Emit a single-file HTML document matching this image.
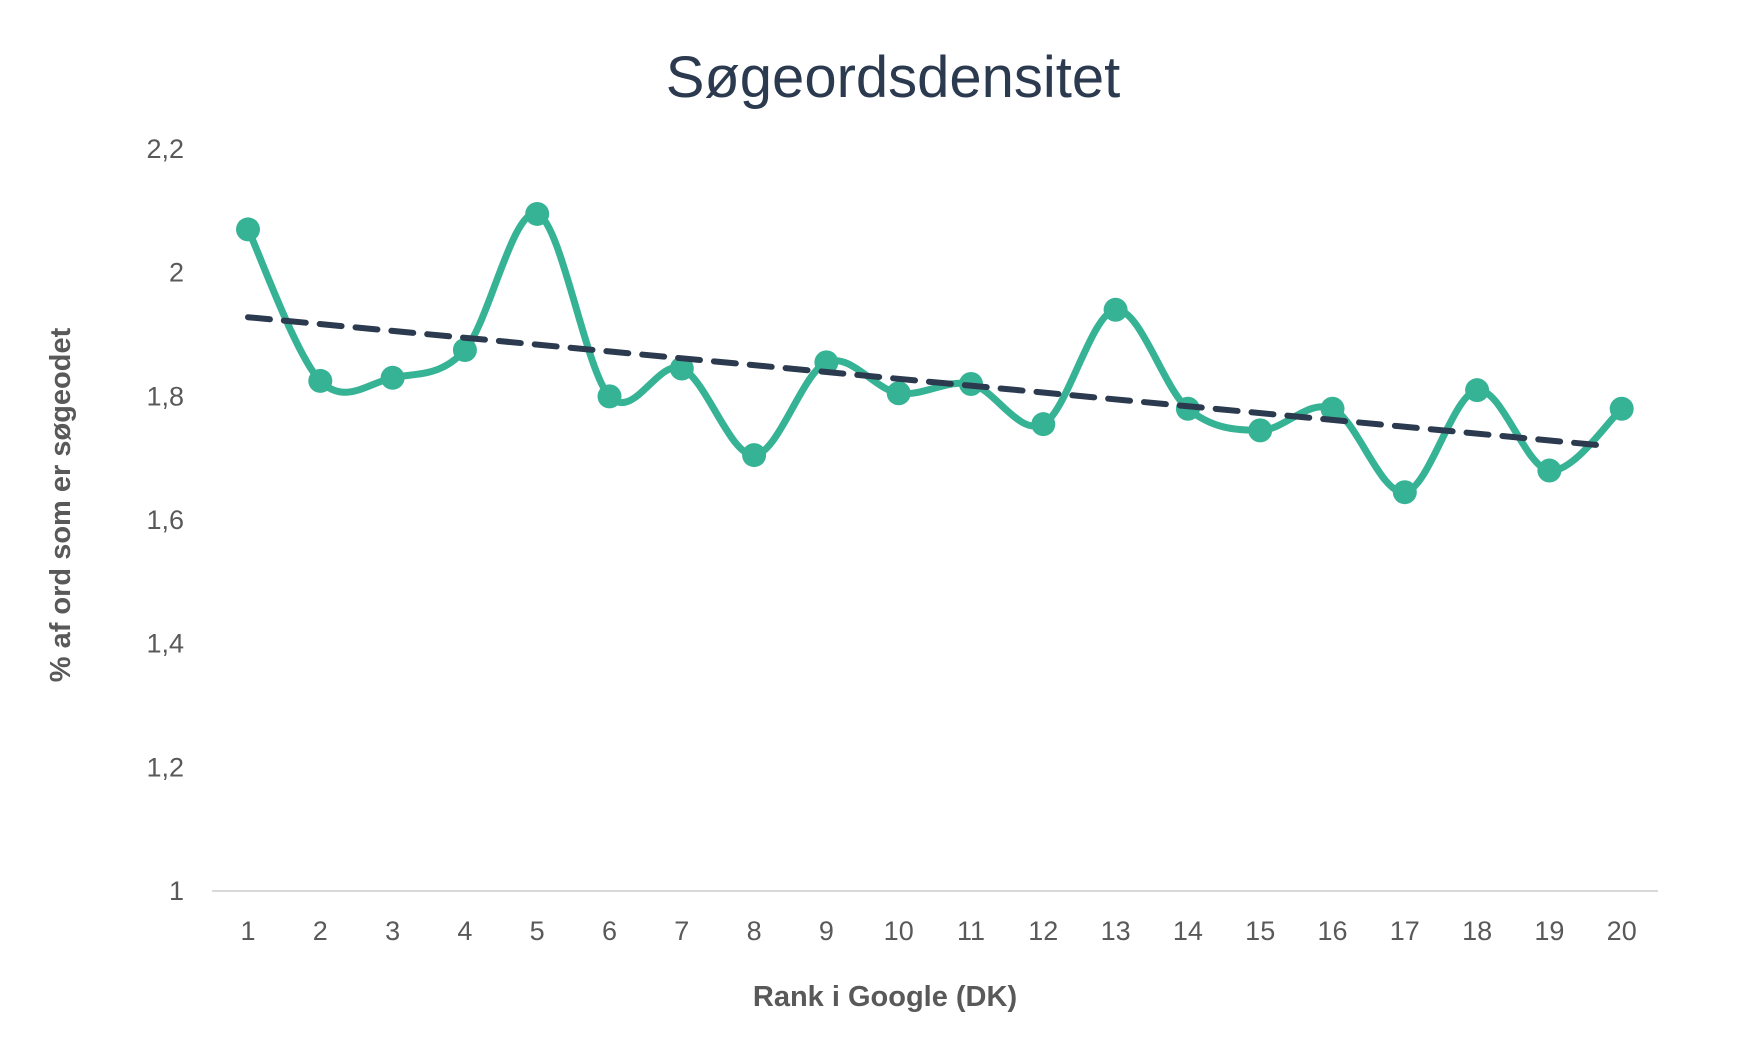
<!DOCTYPE html>
<html><head><meta charset="utf-8"><style>
html,body{margin:0;padding:0;background:#fff;width:1752px;height:1044px;overflow:hidden}
text{font-family:"Liberation Sans",sans-serif}
</style></head><body>
<svg id="s" width="1752" height="1044" xmlns="http://www.w3.org/2000/svg">
<text x="893" y="97" text-anchor="middle" font-size="58" fill="#2b3a4e">Søgeordsdensitet</text>
<g font-size="27" fill="#595959" text-anchor="end" id="yl"></g>
<line x1="212" y1="891" x2="1658" y2="891" stroke="#d9d9d9" stroke-width="2"/>
<g id="xl" font-size="27" fill="#595959" text-anchor="middle"></g>
<text x="885" y="1006" text-anchor="middle" font-size="29" font-weight="bold" fill="#595959">Rank i Google (DK)</text>
<text transform="translate(70,505) rotate(-90)" text-anchor="middle" font-size="29" font-weight="bold" fill="#595959">% af ord som er søgeodet</text>
<path id="curve" fill="none" stroke="#36b394" stroke-width="7" stroke-linejoin="round"/>
<g id="pts" fill="#36b394"></g>
<line id="tr" stroke="#2b3a4e" stroke-width="6" stroke-dasharray="22,14" stroke-linecap="round"/>
</svg>
<script>
var v=[2.07,1.825,1.83,1.875,2.095,1.80,1.845,1.705,1.855,1.805,1.82,1.755,1.94,1.78,1.745,1.78,1.645,1.81,1.68,1.78];
function X(i){return 248+i*72.3}function Y(a){return 891-(a-1)*618.3}
var ns="http://www.w3.org/2000/svg";
var yl=document.getElementById("yl");
["1","1,2","1,4","1,6","1,8","2","2,2"].forEach(function(s,k){var t=document.createElementNS(ns,"text");t.setAttribute("x",184);t.setAttribute("y",Y(1+k*0.2)+9);t.textContent=s;yl.appendChild(t);});
var p=v.map(function(a,i){return[X(i),Y(a)]});
var d="M"+p[0][0]+","+p[0][1];
for(var i=0;i<p.length-1;i++){var p0=p[i-1]||p[i],p1=p[i],p2=p[i+1],p3=p[i+2]||p2,t=6;
d+=" C"+(p1[0]+(p2[0]-p0[0])/t)+","+(p1[1]+(p2[1]-p0[1])/t)+" "+(p2[0]-(p3[0]-p1[0])/t)+","+(p2[1]-(p3[1]-p1[1])/t)+" "+p2[0]+","+p2[1];}
document.getElementById("curve").setAttribute("d",d);
var tr=document.getElementById("tr");tr.setAttribute("x1",248);tr.setAttribute("y1",Y(1.928));tr.setAttribute("x2",1606);tr.setAttribute("y2",Y(1.72));
var g=document.getElementById("pts"),xl=document.getElementById("xl");
p.forEach(function(q,i){var c=document.createElementNS(ns,"circle");c.setAttribute("cx",q[0]);c.setAttribute("cy",q[1]);c.setAttribute("r",12);g.appendChild(c);
var t=document.createElementNS(ns,"text");t.setAttribute("x",q[0]);t.setAttribute("y",940);t.textContent=i+1;xl.appendChild(t);});
</script>
</body></html>
